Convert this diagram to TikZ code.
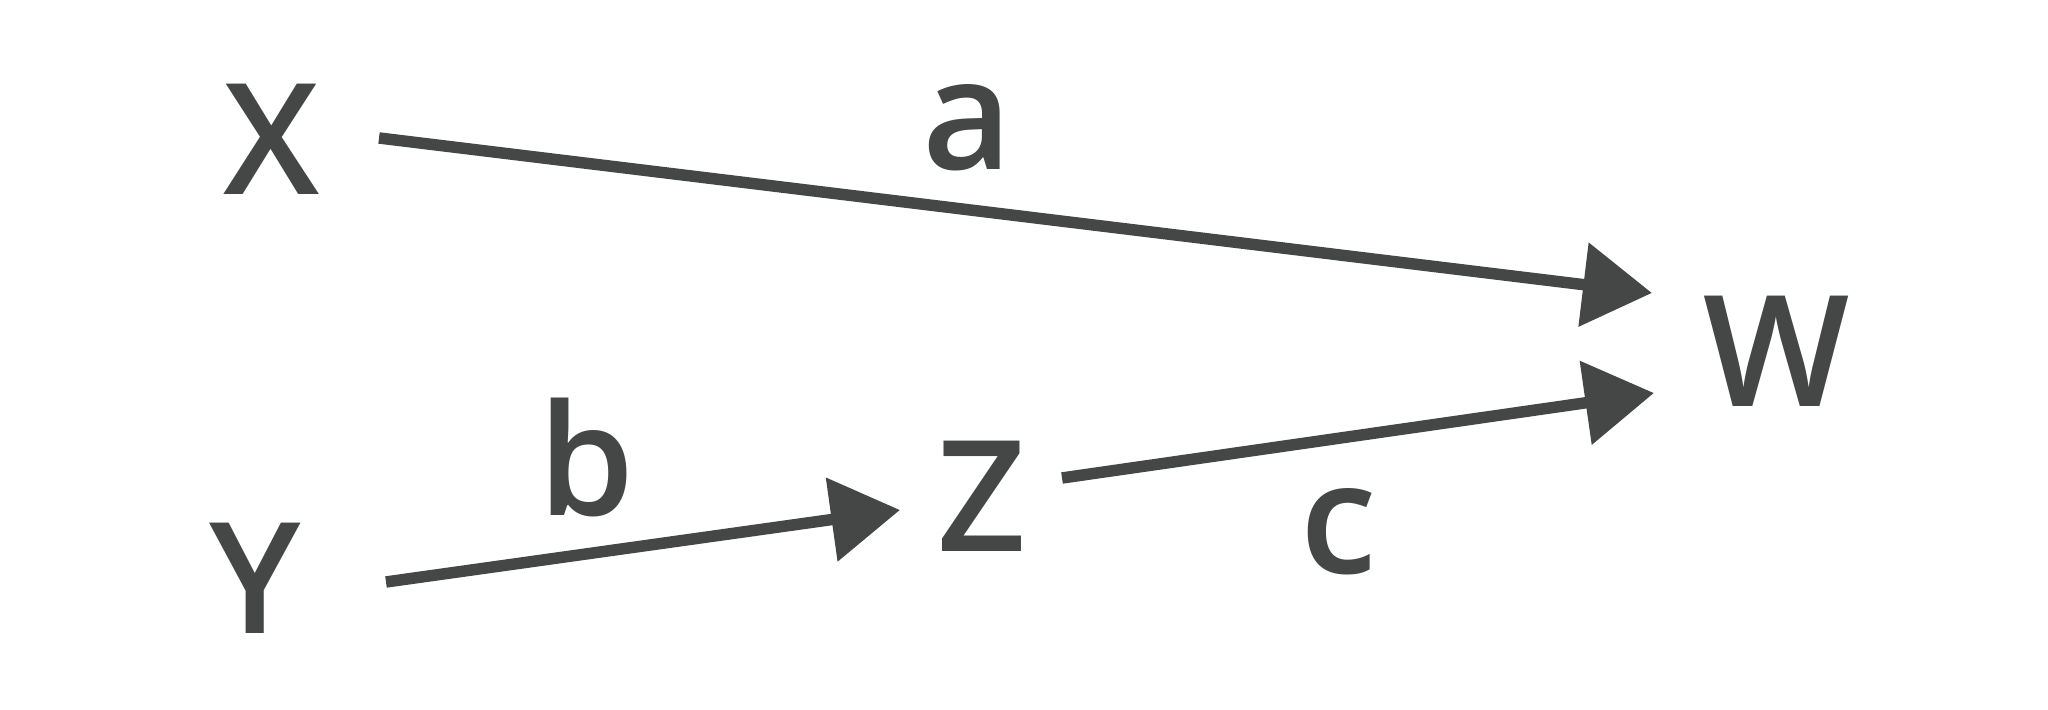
\documentclass[tikz,border=0pt]{standalone}
\usepackage{fontspec}
\setmainfont{Open Sans}[BoldFont=* Semibold]
\usetikzlibrary{arrows.meta}
\definecolor{inkgray}{RGB}{69,71,70}
\tikzset{bigarrow/.style={
        draw=inkgray, line width=1.15mm,
        -{Triangle[length=6.9mm,width=8.2mm]}
    },
    varlabel/.style={text=inkgray, inner sep=0pt, font=\fontsize{44}{48}\selectfont\bfseries}
}

\begin{document}
\begin{tikzpicture}
      \useasboundingbox (0,0) rectangle (20.48,7.10);
      % node labels
      \node[varlabel] (X) at (2.72,5.71) {X};
      \node[varlabel] (Y) at (2.55,1.32) {Y};
      \node[varlabel] (Z) at (9.82,2.14) {Z};
      \node[varlabel] (W) at (17.77,3.59) {W};
      % edge labels
      \node[varlabel] (la) at (9.67,5.82) {a};
      \node[varlabel] (lb) at (5.87,2.52) {b};
      \node[varlabel] (lc) at (13.39,1.78) {c};
      % arrows
      \draw[bigarrow] ([shift={(1.07,0.01)}]X.center) -- ([shift={(-1.25,0.58)}]W.center);
      \draw[bigarrow] ([shift={(1.31,-0.04)}]Y.center) -- ([shift={(-0.82,-0.14)}]Z.center);
      \draw[bigarrow] ([shift={(0.80,0.18)}]Z.center) -- ([shift={(-1.23,-0.42)}]W.center);
    \end{tikzpicture}
\end{document}
